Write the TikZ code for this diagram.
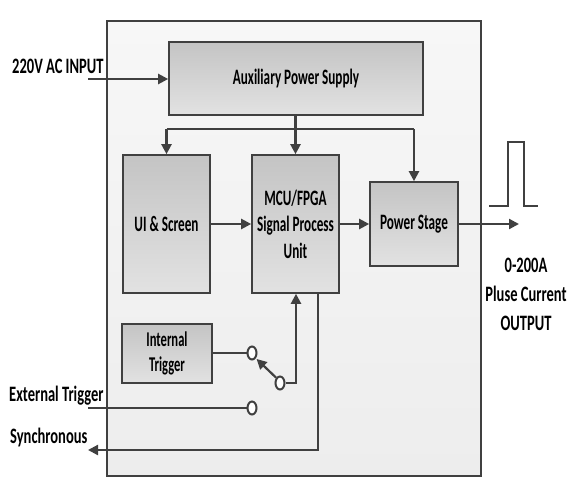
\documentclass[tikz,border=0pt]{standalone}
\usepackage{fontspec}
\setmainfont{Carlito}[FakeStretch=0.6]
\newfontfamily\lblfont{Carlito}[FakeStretch=0.66]
\usetikzlibrary{arrows.meta,shapes.geometric}
\definecolor{ln}{HTML}{404040}
\definecolor{boxtop}{HTML}{C4C4C4}
\definecolor{boxbot}{HTML}{E2E2E2}
\definecolor{outtop}{HTML}{F7F7F7}
\definecolor{outbot}{HTML}{EDEDED}
\tikzset{
  blk/.style={draw=ln, line width=1.6pt, top color=boxtop, bottom color=boxbot,
    inner sep=0pt, font=\bfseries\fontsize{22}{26.5}\selectfont, align=center},
  conn/.style={draw=ln, line width=2.2pt},
  arr/.style={conn, -{Triangle[length=10pt,width=10pt]}},
  sw/.style={draw=ln, line width=2pt, fill=white, ellipse, minimum width=9pt, minimum height=13pt, inner sep=0pt},
  lbl/.style={font=\lblfont\bfseries\fontsize{22}{29}\selectfont, inner sep=0pt, align=center}
}
\begin{document}
\begin{tikzpicture}[x=1pt,y=-1pt]
\useasboundingbox (0,0) rectangle (579,500);
% outer box
\node[draw=ln, line width=2.4pt, top color=outtop, bottom color=outbot, minimum width=374pt, minimum height=455pt, inner sep=0pt] (outer) at (294,248.5) {};
% blocks
\node[blk, minimum width=254pt, minimum height=73pt] (aps) at (296,78.5) {Auxiliary Power Supply};
\node[blk, minimum width=87pt, minimum height=138pt] (ui) at (166.5,224) {UI \& Screen};
\node[blk, minimum width=87pt, minimum height=138pt] (mcu) at (295.5,224) {MCU/FPGA\\Signal Process\\Unit};
\node[blk, minimum width=88pt, minimum height=84pt] (ps) at (414,224) {Power Stage};
\node[blk, minimum width=90pt, minimum height=59pt, font=\bfseries\fontsize{21}{25}\selectfont] (it) at (167,353.5) {Internal\\Trigger};
% switch contacts
\node[sw] (c1) at (252,353) {};
\node[sw] (c2) at (280,383) {};
\node[sw] (c3) at (252,408) {};
% labels
\node[lbl, anchor=west] (lin) at (12,66) {220V AC INPUT};
\node[lbl, anchor=west] (lext) at (9,396) {External Trigger};
\node[lbl, anchor=west] (lsyn) at (10,438) {Synchronous};
\node[lbl] (lout) at (526,294) {0-200A\\Pluse Current\\OUTPUT};
% coordinates
\coordinate (inS) at (88,79);
\coordinate (extS) at (88,408);
\coordinate (synE) at (88,450);
\coordinate (outE) at (519,224);
\coordinate (brL) at (166.5,129);
\coordinate (brR) at (414,129);
% connectors
\draw[arr] (inS) -- (aps.west |- inS);
\draw[arr] (aps.south -| mcu.north) -- (mcu.north);
\draw[conn] (brL) -- (brR);
\draw[arr] (brL) -- (ui.north);
\draw[arr] (brR) -- (ps.north);
\draw[arr] (ui.east) -- (mcu.west);
\draw[arr] (mcu.east) -- (ps.west);
\draw[arr] (ps.east) -- (outE);
\draw[conn] (it.east |- c1) -- (c1.west);
\draw[arr, shorten >=1pt] (c2.north west) -- (c1.south east);
\draw[arr] (c2.east) -| (mcu.south -| aps.south);
\draw[conn] (extS) -- (c3.west);
\draw[arr] (mcu.south -| 318,0) |- (synE);
% pulse
\draw[conn] (489,206) -- (508,206) -- (508,142) -- (524,142) -- (524,206) -- (538,206);
\end{tikzpicture}
\end{document}
